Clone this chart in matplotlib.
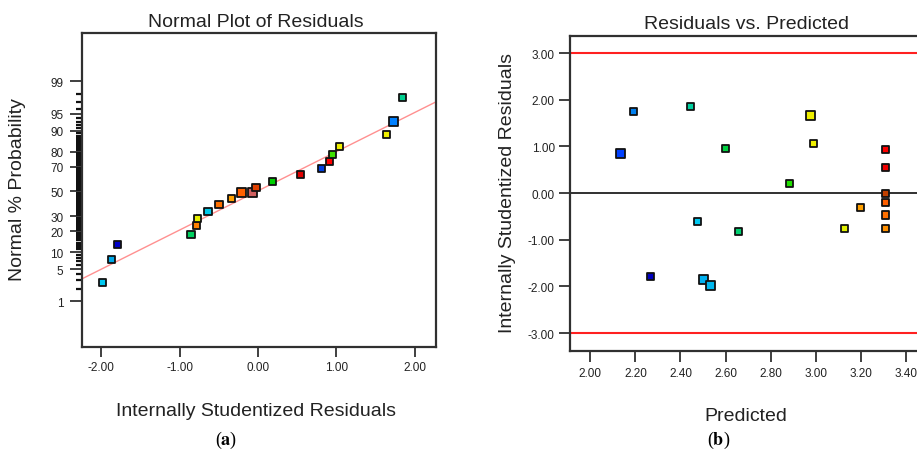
import matplotlib
matplotlib.use("Agg")
import matplotlib.pyplot as plt
from statistics import NormalDist

plt.rcParams["font.family"] = ["Liberation Sans", "DejaVu Sans"]
plt.rcParams["mathtext.fontset"] = "stix"

# --- (a) normal plot of residuals ---
norm_resid = [-1.987, -1.869, -1.787, -0.854, -0.78, -0.768, -0.637, -0.497, -0.34, -0.213, -0.073,
              -0.025, 0.191, 0.539, 0.815, 0.917, 0.952, 1.036, 1.64, 1.724, 1.843]
norm_prob = [2.7, 7.6, 13.1, 18.3, 23.6, 28.6, 33.9, 38.9, 44.0, 48.8, 48.8,
             53.0, 58.6, 63.7, 68.7, 73.4, 78.5, 83.0, 88.4, 93.0, 97.7]
norm_colors = ["#00c8f0", "#00a8e8", "#0000c8", "#00d060", "#ff8000", "#e8f000", "#00c8e8",
               "#ff7000", "#ffa000", "#ff6000", "#d06060", "#e04000", "#00d000", "#e00000",
               "#0040e0", "#ff0000", "#40e000", "#f0f000", "#f0f000", "#0080ff", "#00d090"]
norm_big = [9, 10, 19]
line_x = [-2.25, 2.27]
line_prob = [3.19, 97.09]
prob_ticks = [1, 5, 10, 20, 30, 50, 70, 80, 90, 95, 99]
resid_ticks = [-2.0, -1.0, 0.0, 1.0, 2.0]

# --- (b) residuals vs predicted ---
pred = [2.135, 2.191, 2.445, 2.598, 2.883, 2.975, 2.99, 3.309, 3.309, 3.309, 3.309, 3.309, 3.309,
        3.2, 3.126, 2.475, 2.658, 2.269, 2.503, 2.531]
resid = [0.844, 1.75, 1.85, 0.964, 0.208, 1.664, 1.064, 0.929, 0.55, 0.0, -0.2, -0.47, -0.75,
         -0.30, -0.75, -0.61, -0.82, -1.78, -1.85, -1.97]
pred_colors = ["#0040ff", "#0080f0", "#00d0a0", "#00d040", "#20e000", "#f0f000", "#f0f000",
               "#ff0000", "#f00000", "#c04000", "#ff6000", "#ff7000", "#ff9000", "#ffa000",
               "#e0f000", "#00c8f0", "#00d070", "#0000c0", "#00b0f0", "#00b8f0"]
pred_big = [0, 5, 18, 19]
limits = [-3.0, 3.0]
pred_ticks = [2.0, 2.2, 2.4, 2.6, 2.8, 3.0, 3.2, 3.4]
res_ticks = [-3.0, -2.0, -1.0, 0.0, 1.0, 2.0, 3.0]

nd = NormalDist()
z = lambda p: nd.inv_cdf(p / 100.0)
W, H = 917, 456
fig = plt.figure(figsize=(W / 100, H / 100), dpi=100)
fig.patch.set_facecolor("white")
spine_c = "#303030"


def style(ax):
    for s in ax.spines.values():
        s.set_color(spine_c)
        s.set_linewidth(1.6)
    ax.tick_params(which="major", direction="out", length=7, width=1.3, color=spine_c,
                   labelsize=8.5, labelcolor="#222222", pad=3)
    ax.tick_params(which="minor", direction="out", length=3.5, width=1.0, color=spine_c)


def sizes(n, big):
    return [42 if i in big else 26 for i in range(n)]


# panel a
ax1 = fig.add_axes([81.5 / W, 1 - 348 / H, (436 - 81.5) / W, (348 - 34) / H])
style(ax1)
ax1.plot(line_x, [z(p) for p in line_prob], color="#ff9090", lw=1.0, zorder=2)
ax1.scatter(norm_resid, [z(p) for p in norm_prob], marker="s", s=sizes(len(norm_resid), norm_big),
            c=norm_colors, edgecolors="#111111", linewidths=1.3, zorder=3)
ax1.set_xlim(-2.25, 2.27)
ax1.set_ylim(-3.29, 3.35)
ax1.set_xticks(resid_ticks)
ax1.set_xticklabels([f"{v:.2f}" for v in resid_ticks])
ax1.set_yticks([z(p) for p in prob_ticks])
ax1.set_yticklabels([str(p) for p in prob_ticks])
ax1.set_yticks([z(p) for p in range(1, 100)], minor=True)
ax1.tick_params(axis="y", which="major", length=9, pad=4)
ax1.tick_params(axis="y", which="minor", length=4, width=1.6, color="#111111")

# panel b
ax2 = fig.add_axes([570 / W, 1 - 352.3 / H, (922 - 570) / W, (352.3 - 37.3) / H])
style(ax2)
ax2.spines["right"].set_visible(False)
for lim in limits:
    ax2.axhline(lim, color="#ff2020", lw=1.5, zorder=2)
ax2.axhline(0.0, color="#202020", lw=1.3, zorder=2)
ax2.scatter(pred, resid, marker="s", s=sizes(len(pred), pred_big), c=pred_colors,
            edgecolors="#111111", linewidths=1.3, zorder=3)
ax2.set_xlim(1.91, 3.471)
ax2.set_ylim(-3.39, 3.36)
ax2.set_xticks(pred_ticks)
ax2.set_xticklabels([f"{v:.2f}" for v in pred_ticks])
ax2.set_yticks(res_ticks)
ax2.set_yticklabels([f"{v:.2f}" for v in res_ticks])
ax2.tick_params(which="major", length=8)

# titles and labels
txt = dict(color="#222222", fontsize=14)
fig.text(256 / W, 1 - 22.7 / H, "Normal Plot of Residuals", ha="center", va="center", **txt)
fig.text(746 / W, 1 - 24.3 / H, "Residuals vs. Predicted", ha="center", va="center", **txt)
fig.text(18 / W, 1 - 190 / H, "Normal % Probability", rotation=90, ha="center", va="center", **txt)
fig.text(507 / W, 1 - 193 / H, "Internally Studentized Residuals", rotation=90,
         ha="center", va="center", **txt)
fig.text(255.5 / W, 1 - 411.7 / H, "Internally Studentized Residuals", ha="center", va="center", **txt)
fig.text(746 / W, 1 - 416.7 / H, "Predicted", ha="center", va="center", **txt)
for xc, lab in [(226, "a"), (719, "b")]:
    fig.text(xc / W, 1 - 440 / H, r"($\mathbf{" + lab + r"}$)", ha="center", va="center",
             fontsize=13, family="Liberation Serif", color="black")

fig.savefig("out.png", dpi=100, facecolor="white")
